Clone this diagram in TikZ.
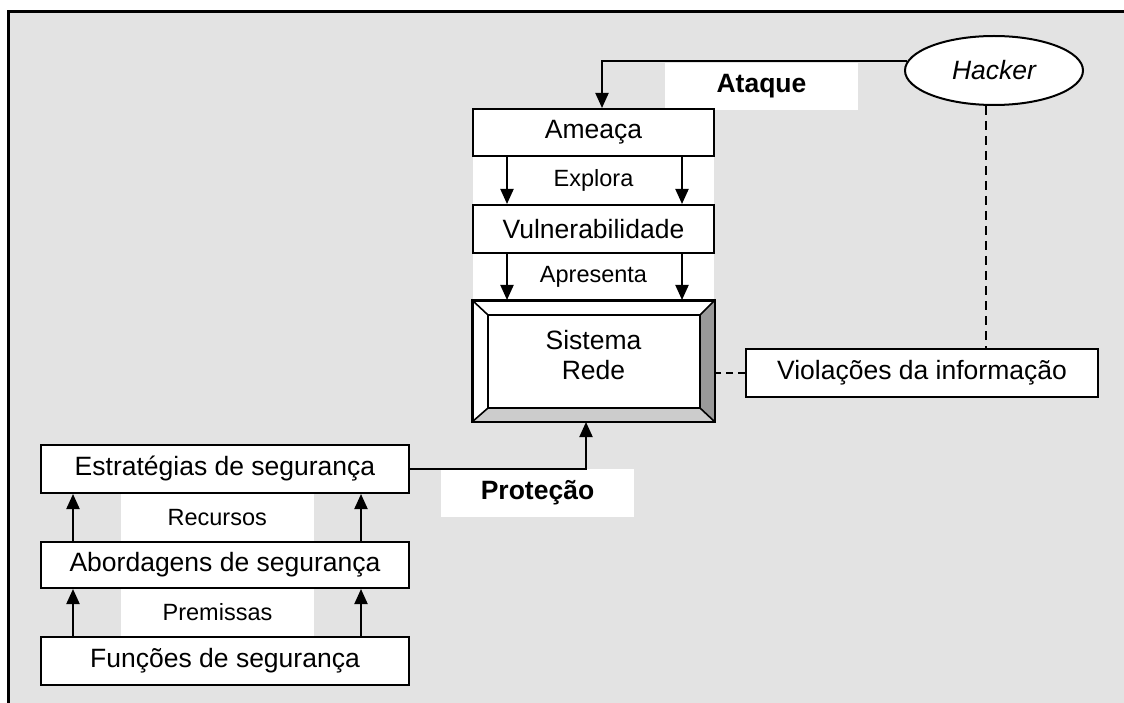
\documentclass[tikz,border=0pt]{standalone}
\usepackage{fontspec}
\setmainfont{Liberation Sans}
\usetikzlibrary{arrows.meta,shapes.geometric,calc}
\definecolor{bg}{HTML}{E3E3E3}
\definecolor{bevdark}{HTML}{999999}
\definecolor{bevlight}{HTML}{CCCCCC}
\tikzset{
  big/.style={font=\fontsize{26.5}{30}\selectfont},
  small/.style={font=\fontsize{23.5}{27}\selectfont},
  box/.style={draw, fill=white, line width=2pt, inner sep=0pt, big},
  lab/.style={fill=white, inner sep=0pt, small},
  boldlab/.style={fill=white, inner sep=0pt, font=\fontsize{26.5}{30}\selectfont\bfseries},
  arr/.style={line width=2pt, -{Triangle[width=13pt,length=15pt]}},
  conn/.style={line width=2pt},
  bevline/.style={line width=1.6pt},
}
\begin{document}
\begin{tikzpicture}[x=1pt,y=-1pt]
\useasboundingbox (0,0) rectangle (1124,703);
\fill[white] (0,0) rectangle (1124,703);
\fill[bg] (8,12) rectangle (1124,703);
\draw[line width=3pt] (8,703) -- (8,12) -- (1124,12);

% white label bands
\node[boldlab, minimum width=193pt, minimum height=47pt] (ataque) at (761.5,86.5) {Ataque};
\node[lab, minimum width=241pt, minimum height=49pt] (explora) at (593.5,180.5) {Explora};
\node[lab, minimum width=241pt, minimum height=48pt] (apr) at (593.5,277) {Apresenta};
\node[boldlab, minimum width=193pt, minimum height=48pt] (prot) at (537.5,493) {Proteção};
\node[lab, minimum width=193.5pt, minimum height=49pt] (rec) at (217.25,517.5) {Recursos};
\node[lab, minimum width=193pt, minimum height=49pt] (pre) at (217.5,612.5) {Premissas};

% boxes
\node[box, minimum width=241pt, minimum height=47pt] (ame) at (593.5,132.5) {Ameaça};
\node[box, minimum width=241pt, minimum height=48pt] (vul) at (593.5,229) {Vulnerabilidade};
\node[box, minimum width=352pt, minimum height=48pt] (vio) at (922,373) {Violações da informação};
\node[draw, ellipse, fill=white, line width=2pt, minimum width=178pt, minimum height=69pt, inner sep=0pt,
      font=\fontsize{26.5}{30}\selectfont\itshape] (hack) at (994,70.5) {Hacker};
\node[box, minimum width=368pt, minimum height=48pt] (est) at (225,469) {Estratégias de segurança};
\node[box, minimum width=368pt, minimum height=46pt] (abo) at (225,565) {Abordagens de segurança};
\node[box, minimum width=368pt, minimum height=48pt] (fun) at (225,661) {Funções de segurança};

% bevelled system box
\node[draw, fill=white, line width=2pt, minimum width=241pt, minimum height=120pt, inner sep=0pt] (sis) at (593.5,361) {};
\coordinate (inw) at ($(sis.north west)+(16,15)$);
\coordinate (ine) at ($(sis.north east)+(-15,15)$);
\coordinate (ise) at ($(sis.south east)+(-15,-14)$);
\coordinate (isw) at ($(sis.south west)+(16,-14)$);
\fill[bevdark] (sis.north east) -- (sis.south east) -- (ise) -- (ine) -- cycle;
\fill[bevlight] (sis.south west) -- (sis.south east) -- (ise) -- (isw) -- cycle;
\draw[bevline] (inw) -- (ine) -- (ise) -- (isw) -- cycle;
\draw[bevline] (sis.north west) -- (inw) (sis.north east) -- (ine) (sis.south east) -- (ise) (sis.south west) -- (isw);
\draw[line width=2pt] (sis.north west) rectangle (sis.south east);
\node[big, align=center] (sistxt) at (593.5,355) {Sistema\\Rede};

% connectors
\draw[arr] (hack.174) -| ([xshift=8.5pt]ame.north);
\draw[arr] ([xshift=-86.5pt]ame.south) -- ([xshift=-86.5pt]vul.north);
\draw[arr] ([xshift=88.5pt]ame.south) -- ([xshift=88.5pt]vul.north);
\draw[arr] ([xshift=-86.5pt]vul.south) -- ([xshift=-86.5pt]sis.north);
\draw[arr] ([xshift=88.5pt]vul.south) -- ([xshift=88.5pt]sis.north);
\draw[conn, dash pattern=on 7pt off 5pt] (vio.west) -- (vio.west -| sis.east);
\coordinate (hb) at ([xshift=-8pt]hack.south);
\draw[conn, dash pattern=on 9pt off 6pt] (hb) -- (hb |- vio.north);
\draw[arr] (est.east) -| ([xshift=-7.5pt]sis.south);
\draw[arr] ([xshift=-152pt]abo.north) -- ([xshift=-152pt]est.south);
\draw[arr] ([xshift=136pt]abo.north) -- ([xshift=136pt]est.south);
\draw[arr] ([xshift=-152pt]fun.north) -- ([xshift=-152pt]abo.south);
\draw[arr] ([xshift=136pt]fun.north) -- ([xshift=136pt]abo.south);
\end{tikzpicture}
\end{document}
